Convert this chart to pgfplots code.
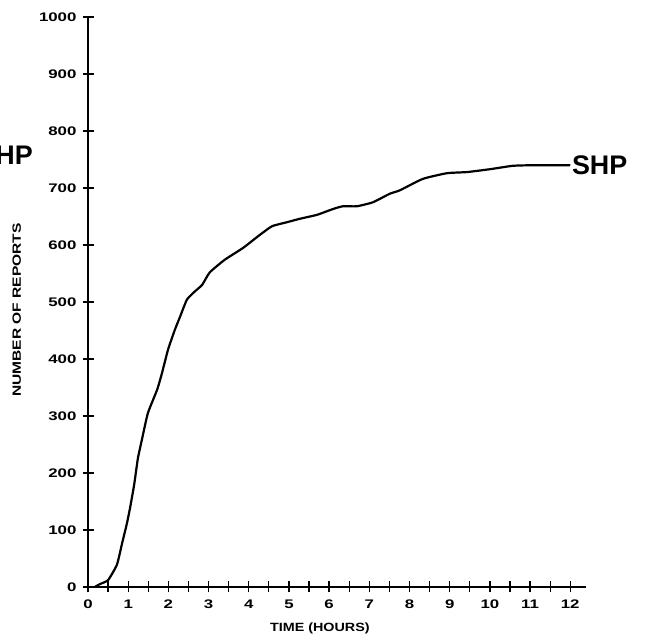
\documentclass[border=0pt]{standalone}
\usepackage{pgfplots}
\pgfplotsset{compat=1.18}
\usepackage{fontspec}
\setmainfont{Liberation Sans}
\begin{document}
\begin{tikzpicture}
\begin{axis}[
    x=40.2bp, y=0.57bp,
    xmin=0, xmax=12.4, ymin=0, ymax=1000,
    axis x line=bottom, axis y line=left,
    axis line style={-, line width=1.5bp},
    xtick={0,...,12},
    minor xtick={0.5,1.5,...,11.5},
    ytick={0,100,...,1000},
    tick align=center,
    major tick length=11bp, minor tick length=11bp,
    tick style={line width=1.3bp, black},
    clip=false,
    tick label style={font=\bfseries\fontsize{12.5}{12.5}\selectfont, xscale=1.35},
    yticklabel style={xshift=-1bp},
    xticklabel style={yshift=-4bp},
    /pgf/number format/assume math mode=true,
    /pgf/number format/1000 sep={},
    xlabel={TIME (HOURS)},
    xlabel style={at={(axis cs:5.77,-72)}, anchor=center, font=\bfseries\fontsize{12}{12}\selectfont, xscale=1.2},
    ylabel={NUMBER OF REPORTS},
    ylabel style={at={(axis cs:-1.77,486)}, anchor=center, font=\bfseries\fontsize{12}{12}\selectfont, xscale=1.3},
]
\addplot[black, line width=2.2bp, smooth, tension=0.3, line join=round] coordinates {
    (0.17,0) (0.30,5) (0.5,12) (0.72,39) (0.85,77) (0.97,112) (1.05,140)
    (1.15,180) (1.24,225) (1.34,258) (1.49,305) (1.72,346) (1.84,375)
    (1.99,416) (2.16,451) (2.29,474) (2.46,504) (2.65,518) (2.84,530)
    (3.03,552) (3.4,574) (3.86,595) (4.28,618) (4.58,633) (4.95,640)
    (5.27,646) (5.70,653) (6.09,663) (6.34,668) (6.69,668) (7.09,675)
    (7.51,690) (7.76,696) (8.33,716) (8.93,726) (9.43,728) (10.0,733)
    (10.57,739) (11.07,740) (12.0,740)
};
\node[anchor=west, font=\bfseries\fontsize{27}{27}\selectfont, inner sep=0pt] at (axis cs:12.04,740) {SHP};
\node[anchor=east, font=\bfseries\fontsize{27}{27}\selectfont, inner sep=0pt] at (axis cs:-1.37,758) {SHP};
\coordinate (bl) at (axis cs:-2.19,-98);
\coordinate (tr) at (axis cs:13.91,1030);
\end{axis}
\pgfresetboundingbox
\path[use as bounding box] (bl) rectangle (tr);
\end{tikzpicture}
\end{document}
